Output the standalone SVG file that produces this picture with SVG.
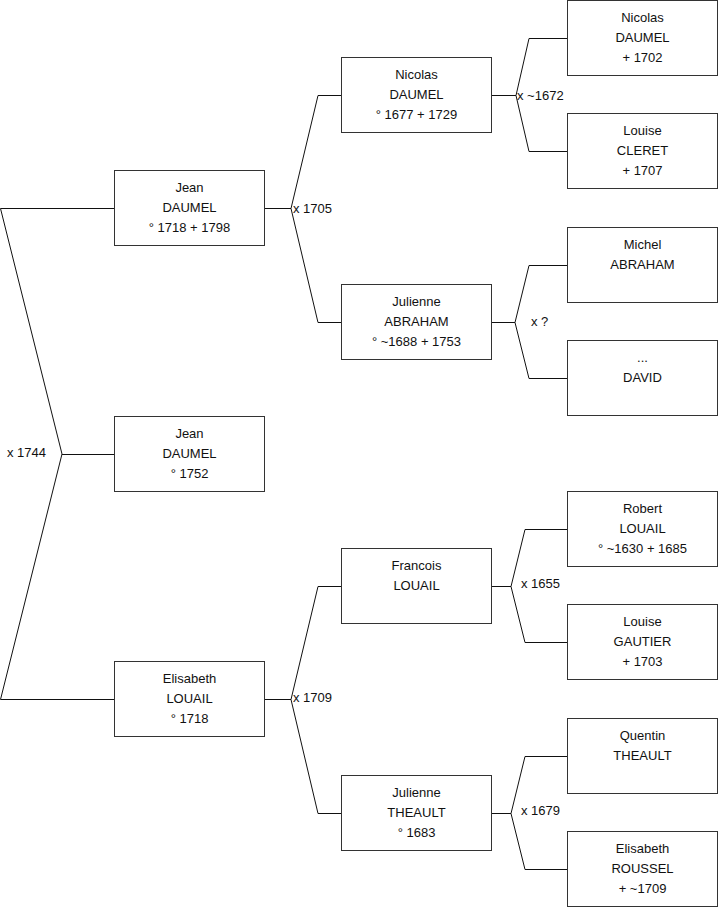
<svg xmlns="http://www.w3.org/2000/svg" width="719" height="908" viewBox="0 0 719 908">
<style>
.box rect{fill:#fff;stroke:#333;stroke-width:1}
text{font-family:"Liberation Sans",Arial,sans-serif;font-size:13px;fill:#111}
.box text{text-anchor:middle}
.conn path{fill:none;stroke:#111;stroke-width:1}
</style>
<rect width="719" height="908" fill="#fff"/>
<g id="connectors" class="conn">
<path d="M114,208.5 H0.5 L62,454 L0.5,699.5 H114 M62,454.5 H114"/>
<path d="M264.5,208.5 H291 L318,95.5 H341 M291,208.5 L318,322.5 H341"/>
<path d="M264.5,699.5 H291 L318,586.5 H341 M291,699.5 L318,813.5 H341"/>
<path d="M491.5,95.5 H516 L529,38.5 H567 M516,95.5 L529,151.5 H567"/>
<path d="M491.5,322.5 H515 L529,265.5 H567 M515,322.5 L529,378.5 H567"/>
<path d="M491.5,586.5 H511 L525,529.5 H567 M511,586.5 L525,642.5 H567"/>
<path d="M491.5,813.5 H511 L525,756.5 H567 M511,813.5 L525,869.5 H567"/>
<text x="7" y="457">x 1744</text>
<text x="293" y="212.5">x 1705</text>
<text x="293" y="702">x 1709</text>
<text x="517" y="99.5">x ~1672</text>
<text x="531" y="325.5">x ?</text>
<text x="521" y="588">x 1655</text>
<text x="521" y="815">x 1679</text>
</g>
<g id="n_jean_daumel_1718" class="box"><rect x="114.5" y="170.5" width="150" height="75"/><text x="189.5" y="191.5">Jean</text><text x="189.5" y="212">DAUMEL</text><text x="189.5" y="231.5">° 1718 + 1798</text></g>
<g id="n_jean_daumel_1752" class="box"><rect x="114.5" y="416.5" width="150" height="75"/><text x="189.5" y="437.5">Jean</text><text x="189.5" y="458">DAUMEL</text><text x="189.5" y="477.5">° 1752</text></g>
<g id="n_elisabeth_louail" class="box"><rect x="114.5" y="661.5" width="150" height="75"/><text x="189.5" y="682.5">Elisabeth</text><text x="189.5" y="703">LOUAIL</text><text x="189.5" y="722.5">° 1718</text></g>
<g id="n_nicolas_daumel_1677" class="box"><rect x="341.5" y="57.5" width="150" height="75"/><text x="416.5" y="78.5">Nicolas</text><text x="416.5" y="99">DAUMEL</text><text x="416.5" y="118.5">° 1677 + 1729</text></g>
<g id="n_julienne_abraham" class="box"><rect x="341.5" y="284.5" width="150" height="75"/><text x="416.5" y="305.5">Julienne</text><text x="416.5" y="326">ABRAHAM</text><text x="416.5" y="345.5">° ~1688 + 1753</text></g>
<g id="n_francois_louail" class="box"><rect x="341.5" y="548.5" width="150" height="75"/><text x="416.5" y="569.5">Francois</text><text x="416.5" y="590">LOUAIL</text></g>
<g id="n_julienne_theault" class="box"><rect x="341.5" y="775.5" width="150" height="75"/><text x="416.5" y="796.5">Julienne</text><text x="416.5" y="817">THEAULT</text><text x="416.5" y="836.5">° 1683</text></g>
<g id="n_nicolas_daumel_1702" class="box"><rect x="567.5" y="0.5" width="150" height="75"/><text x="642.5" y="21.5">Nicolas</text><text x="642.5" y="42">DAUMEL</text><text x="642.5" y="61.5"> + 1702</text></g>
<g id="n_louise_cleret" class="box"><rect x="567.5" y="113.5" width="150" height="75"/><text x="642.5" y="134.5">Louise</text><text x="642.5" y="155">CLERET</text><text x="642.5" y="174.5"> + 1707</text></g>
<g id="n_michel_abraham" class="box"><rect x="567.5" y="227.5" width="150" height="75"/><text x="642.5" y="248.5">Michel</text><text x="642.5" y="269">ABRAHAM</text></g>
<g id="n_david" class="box"><rect x="567.5" y="340.5" width="150" height="75"/><text x="642.5" y="361.5">...</text><text x="642.5" y="382">DAVID</text></g>
<g id="n_robert_louail" class="box"><rect x="567.5" y="491.5" width="150" height="75"/><text x="642.5" y="512.5">Robert</text><text x="642.5" y="533">LOUAIL</text><text x="642.5" y="552.5">° ~1630 + 1685</text></g>
<g id="n_louise_gautier" class="box"><rect x="567.5" y="604.5" width="150" height="75"/><text x="642.5" y="625.5">Louise</text><text x="642.5" y="646">GAUTIER</text><text x="642.5" y="665.5"> + 1703</text></g>
<g id="n_quentin_theault" class="box"><rect x="567.5" y="718.5" width="150" height="75"/><text x="642.5" y="739.5">Quentin</text><text x="642.5" y="760">THEAULT</text></g>
<g id="n_elisabeth_roussel" class="box"><rect x="567.5" y="831.5" width="150" height="75"/><text x="642.5" y="852.5">Elisabeth</text><text x="642.5" y="873">ROUSSEL</text><text x="642.5" y="892.5"> + ~1709</text></g>
</svg>
